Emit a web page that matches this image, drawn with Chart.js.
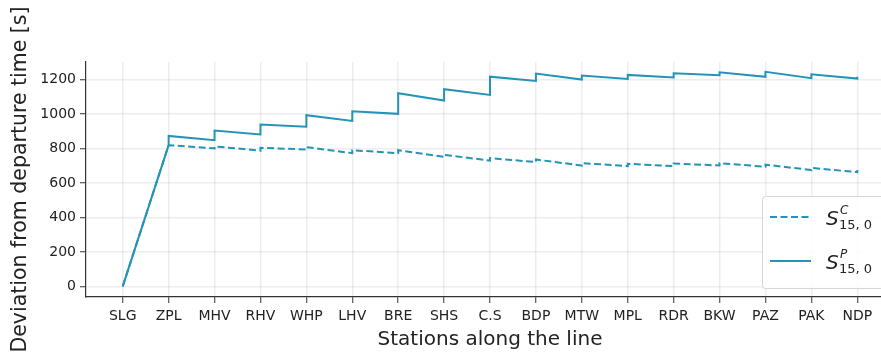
<!DOCTYPE html>
<html>
<head>
<meta charset="utf-8">
<script src="https://cdn.jsdelivr.net/npm/chart.js@4/dist/chart.umd.min.js"></script>
<style>
  html, body { margin: 0; padding: 0; background: #fff; overflow: hidden; }
  #wrap { width: 900px; height: 354px; }
</style>
</head>
<body>
<div id="wrap"><canvas id="c" width="900" height="354"></canvas></div>
<script>
// Stations along the line, in running order
const stations = ['SLG','ZPL','MHV','RHV','WHP','LHV','BRE','SHS','C.S','BDP','MTW','MPL','RDR','BKW','PAZ','PAK','NDP'];

// Deviation from departure time [s] on arrival and on departure at each station
const currentArrival   = [0, 819, 800, 788, 794, 773, 773, 752, 730, 721, 701, 698, 698, 701, 694, 675, 663];
const currentDeparture = [0, 819, 812, 804, 808, 790, 790, 763, 744, 736, 715, 711, 713, 715, 706, 687, 675];
const plannedArrival   = [0, 820, 848, 881, 926, 960, 1001, 1078, 1111, 1192, 1200, 1204, 1212, 1225, 1216, 1208, 1206];
const plannedDeparture = [0, 873, 904, 939, 993, 1016, 1121, 1144, 1217, 1235, 1223, 1227, 1237, 1242, 1245, 1231, 1216];

const yTicks = [0, 200, 400, 600, 800, 1000, 1200];

// Two points per station (arrival, then departure) so dwell shows as a vertical step
function steps(arr, dep) {
  const pts = [];
  arr.forEach((a, i) => {
    pts.push({ x: i, y: a });
    if (i > 0) pts.push({ x: i, y: dep[i] });
  });
  return pts;
}

const lineColor = '#2494b6';
const dashPattern = [7, 3.5];
const sans = '"DejaVu Sans", sans-serif';

// Legend with math-style labels: S with superscript and subscript
const mathLegend = {
  id: 'mathLegend',
  afterDraw(chart) {
    const ctx = chart.ctx;
    const a = chart.chartArea;
    const right = a.right - 7, bottom = a.bottom - 9;
    const left = right - 125, top = bottom - 92;
    ctx.save();
    ctx.beginPath();
    if (ctx.roundRect) ctx.roundRect(left + 0.5, top + 0.5, right - left, bottom - top, 3);
    else ctx.rect(left + 0.5, top + 0.5, right - left, bottom - top);
    ctx.fillStyle = 'rgba(255,255,255,0.85)';
    ctx.fill();
    ctx.strokeStyle = '#d6d6d6';
    ctx.lineWidth = 1;
    ctx.stroke();

    const entries = [
      { dash: dashPattern, sup: 'C', y: top + 21 },
      { dash: [], sup: 'P', y: top + 65 }
    ];
    entries.forEach(e => {
      ctx.beginPath();
      ctx.setLineDash(e.dash);
      ctx.strokeStyle = lineColor;
      ctx.lineWidth = 2;
      ctx.moveTo(left + 8, e.y);
      ctx.lineTo(left + 49, e.y);
      ctx.stroke();
      ctx.setLineDash([]);
      ctx.fillStyle = '#222';
      ctx.textBaseline = 'alphabetic';
      ctx.textAlign = 'left';
      ctx.font = 'italic 20px ' + sans;
      ctx.fillText('S', left + 64, e.y + 8);
      ctx.font = 'italic 12px ' + sans;
      ctx.fillText(e.sup, left + 78, e.y - 3);
      ctx.font = '13px ' + sans;
      ctx.fillText('15, 0', left + 77, e.y + 12);
    });
    ctx.restore();
  }
};

new Chart(document.getElementById('c'), {
  type: 'line',
  data: {
    datasets: [
      {
        label: 'S^C_{15,0}',
        data: steps(currentArrival, currentDeparture),
        borderColor: lineColor,
        borderWidth: 2,
        borderDash: dashPattern,
        pointRadius: 0,
        tension: 0,
        fill: false
      },
      {
        label: 'S^P_{15,0}',
        data: steps(plannedArrival, plannedDeparture),
        borderColor: lineColor,
        borderWidth: 2,
        pointRadius: 0,
        tension: 0,
        fill: false
      }
    ]
  },
  options: {
    responsive: false,
    devicePixelRatio: 1,
    animation: false,
    layout: { padding: { top: 62, right: 6, left: 0, bottom: 0 } },
    plugins: { legend: { display: false }, tooltip: { enabled: false } },
    scales: {
      x: {
        type: 'linear',
        min: -0.8,
        max: 16.8,
        afterBuildTicks: s => { s.ticks = stations.map((_, i) => ({ value: i })); },
        afterFit: s => { s.height = 57; },
        ticks: {
          autoSkip: false,
          maxRotation: 0,
          padding: 5,
          color: '#222',
          font: { family: sans, size: 14 },
          callback: v => stations[v]
        },
        grid: { color: 'rgba(0,0,0,0.07)', lineWidth: 1.5, tickLength: 6, tickColor: '#333', tickWidth: 1 },
        border: { color: '#333', width: 1.2 },
        title: {
          display: true,
          text: 'Stations along the line',
          color: '#222',
          font: { family: sans, size: 20 },
          padding: { top: 0, bottom: 2 }
        }
      },
      y: {
        min: -62,
        max: 1302,
        afterBuildTicks: s => { s.ticks = yTicks.map(v => ({ value: v })); },
        afterFit: s => { s.width = 86; },
        ticks: {
          padding: 4,
          color: '#222',
          font: { family: sans, size: 14 },
          callback: v => String(v)
        },
        grid: { color: 'rgba(0,0,0,0.07)', lineWidth: 1.5, tickLength: 6, tickColor: '#333', tickWidth: 1 },
        border: { color: '#333', width: 1.2 },
        title: {
          display: true,
          text: 'Deviation from departure time [s]',
          color: '#222',
          font: { family: sans, size: 20.5 },
          padding: { top: 8, bottom: 0 }
        }
      }
    }
  },
  plugins: [mathLegend]
});
</script>
</body>
</html>
